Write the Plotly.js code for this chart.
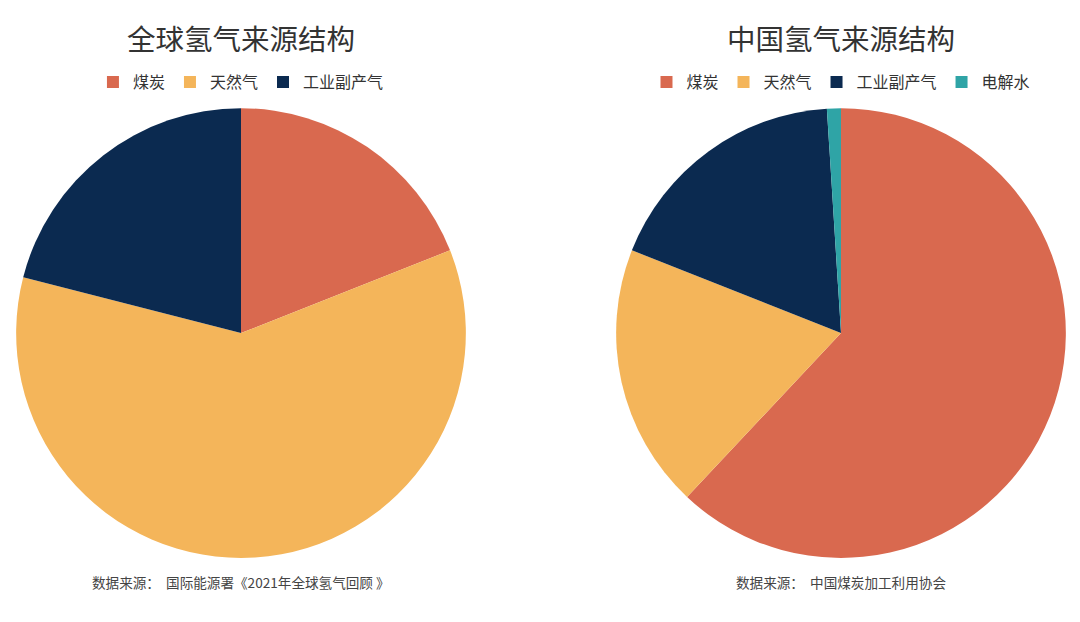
<!DOCTYPE html>
<html><head><meta charset="utf-8">
<script src="https://cdn.plot.ly/plotly-3.0.1.min.js"></script>
<style>html,body{margin:0;padding:0;background:#fff}#chart{width:1080px;height:622px}</style>
</head><body><div id="chart"></div>
<script>
const globalLabels = ['煤炭', '天然气', '工业副产气'];
const globalValues = [19, 60, 21];
const chinaLabels = ['煤炭', '天然气', '工业副产气', '电解水'];
const chinaValues = [62, 19, 18, 1];
const colorMap = {'煤炭': '#D9694F', '天然气': '#F4B55A', '工业副产气': '#0B2A50', '电解水': '#2FA4A6'};
const titleLeft = '全球氢气来源结构';
const titleRight = '中国氢气来源结构';
const sourceLeft = '数据来源：  国际能源署《2021年全球氢气回顾 》';
const sourceRight = '数据来源：  中国煤炭加工利用协会';

const FONT = '"Noto Sans CJK SC", "Noto Sans", sans-serif';
const common = {type: 'pie', sort: false, direction: 'clockwise', rotation: 0, textinfo: 'none', hoverinfo: 'label+percent'};
// pie legend entries are keyed by label across traces; a zero-width suffix keeps the right chart's entries separate
const chinaKeys = chinaLabels.map(l => l + '\u200b');
const data = [
  Object.assign({}, common, {labels: globalLabels, values: globalValues,
    marker: {colors: globalLabels.map(l => colorMap[l]), line: {width: 0}},
    domain: {x: [0.0148, 0.4315], y: [0.103, 0.826]}, legend: 'legend'}),
  Object.assign({}, common, {labels: chinaKeys, values: chinaValues,
    marker: {colors: chinaLabels.map(l => colorMap[l]), line: {width: 0}},
    domain: {x: [0.5704, 0.987], y: [0.103, 0.826]}, legend: 'legend2'})
];
const legendCommon = {orientation: 'h', xanchor: 'center', yanchor: 'middle', y: 0.868,
  font: {family: FONT, size: 16, color: '#333'}, itemwidth: 30, bgcolor: 'rgba(0,0,0,0)', tracegroupgap: 0};
const layout = {
  width: 1080, height: 622, margin: {l: 0, r: 0, t: 0, b: 0},
  paper_bgcolor: '#fff', plot_bgcolor: '#fff', font: {family: FONT},
  legend: Object.assign({}, legendCommon, {x: 0.2231}),
  legend2: Object.assign({}, legendCommon, {x: 0.7787}),
  annotations: [
    {text: titleLeft, x: 0.2231, y: 0.94, xref: 'paper', yref: 'paper', showarrow: false, xanchor: 'center', yanchor: 'middle', font: {family: FONT, size: 28.5, color: '#333'}},
    {text: titleRight, x: 0.7787, y: 0.94, xref: 'paper', yref: 'paper', showarrow: false, xanchor: 'center', yanchor: 'middle', font: {family: FONT, size: 28.5, color: '#333'}},
    {text: sourceLeft, x: 0.2231, y: 0.064, xref: 'paper', yref: 'paper', showarrow: false, xanchor: 'center', yanchor: 'middle', font: {family: FONT, size: 13.6, color: '#444'}},
    {text: sourceRight, x: 0.7787, y: 0.064, xref: 'paper', yref: 'paper', showarrow: false, xanchor: 'center', yanchor: 'middle', font: {family: FONT, size: 13.6, color: '#444'}}
  ]
};
Plotly.newPlot('chart', data, layout, {displayModeBar: false, responsive: false});
</script></body></html>
